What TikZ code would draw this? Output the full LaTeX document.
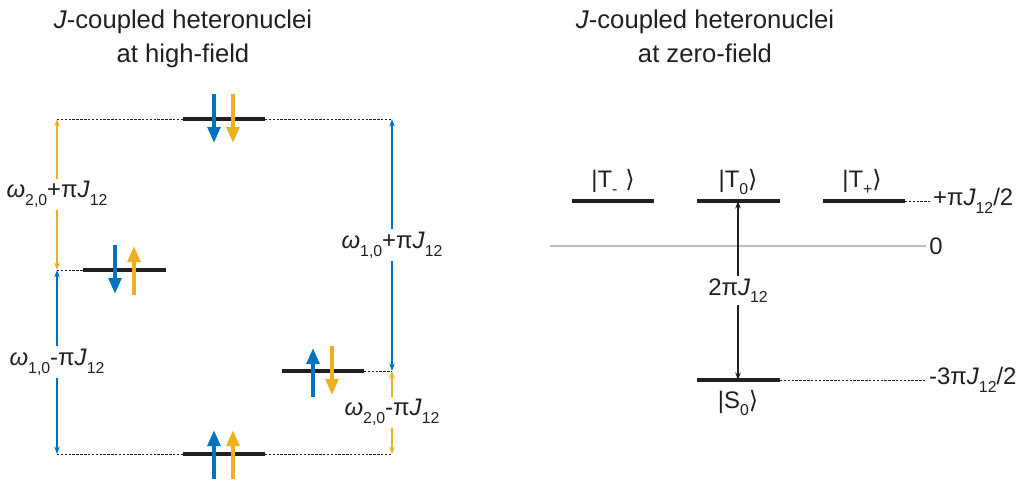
\documentclass[tikz,border=0pt]{standalone}
\usepackage{fontspec}
\setmainfont{Liberation Sans}
\newfontfamily\brafont{DejaVu Sans}
\usetikzlibrary{arrows.meta, positioning}
\definecolor{spinBlue}{HTML}{0072BD}
\definecolor{spinYellow}{HTML}{EDB120}
\definecolor{zeroGray}{HTML}{BDBDBD}
\definecolor{inkDark}{HTML}{231F20}
\newcommand{\lowidx}[1]{\raisebox{-0.6ex}{\fontsize{9}{10}\selectfont #1}}
\newcommand{\kt}[2]{|T\lowidx{#1}#2{\brafont\char"27E9}}

\begin{document}
\begin{tikzpicture}[x=0.02cm, y=-0.02cm, color=inkDark,
    lvl/.style={line width=2.3pt},
    guide/.style={line width=0.55pt, dash pattern=on 1.4pt off 0.8pt},
    spinarr/.style={line width=2.4pt, -{Triangle[length=0.32cm, width=0.25cm]}},
    dim/.style={line width=0.6pt, {Stealth[length=1.5mm, width=1.1mm]}-{Stealth[length=1.5mm, width=1.1mm]}},
    lbl/.style={fill=white, inner sep=1.5pt, font=\fontsize{13.6}{16}\selectfont, text=inkDark},
    ttl/.style={font=\fontsize{14.6}{17}\selectfont, anchor=base}]
    \useasboundingbox (0,0) rectangle (1021,487);
    % titles
    \node[ttl] (hfA) at (183,28) {\textit{J}-coupled heteronuclei};
    \node[ttl] (hfB) at (183,62) {at high-field};
    \node[ttl] (zfA) at (705,28) {\textit{J}-coupled heteronuclei};
    \node[ttl] (zfB) at (705,62) {at zero-field};

    % high-field levels
    \coordinate (dd-l) at (183,119); \coordinate (dd-r) at (265,119);
    \coordinate (du-l) at (83,270);  \coordinate (du-r) at (166,270);
    \coordinate (ud-l) at (282,371); \coordinate (ud-r) at (364,371);
    \coordinate (uu-l) at (183,454); \coordinate (uu-r) at (265,454);
    \coordinate (L1) at (57,119); \coordinate (L2) at (57,270); \coordinate (L3) at (57,454);
    \coordinate (R1) at (392,119); \coordinate (R2) at (392,371); \coordinate (R3) at (392,454);
    \draw[guide] (L1) -- (dd-l) (dd-r) -- (R1);
    \draw[guide] (L2) -- (du-l);
    \draw[guide] (ud-r) -- (R2);
    \draw[guide] (L3) -- (uu-l) (uu-r) -- (R3);
    \foreach \a in {dd, du, ud, uu} \draw[lvl] (\a-l) -- (\a-r);

    % spins
    \draw[spinarr, spinBlue]   (214,94) -- (214,143);
    \draw[spinarr, spinYellow] (233,94) -- (233,143);
    \draw[spinarr, spinBlue]   (115,245) -- (115,294);
    \draw[spinarr, spinYellow] (134,295) -- (134,246);
    \draw[spinarr, spinBlue]   (313,397) -- (313,348);
    \draw[spinarr, spinYellow] (332,346) -- (332,395);
    \draw[spinarr, spinBlue]   (214,479) -- (214,430);
    \draw[spinarr, spinYellow] (233,479) -- (233,430);

    % transitions
    \draw[dim, spinYellow] (L1) -- node[lbl] (w2p) {\textit{ω}\lowidx{2,0}+π\textit{J}\lowidx{12}} (L2);
    \draw[dim, spinBlue]   (L2) -- node[lbl] (w1m) {\textit{ω}\lowidx{1,0}-π\textit{J}\lowidx{12}} (L3);
    \draw[dim, spinBlue]   (R1) -- node[lbl] (w1p) {\textit{ω}\lowidx{1,0}+π\textit{J}\lowidx{12}} (R2);
    \draw[dim, spinYellow] (R2) -- node[lbl] (w2m) {\textit{ω}\lowidx{2,0}-π\textit{J}\lowidx{12}} (R3);

    % zero-field levels
    \coordinate (tm-l) at (572,201); \coordinate (tm-r) at (654,201);
    \coordinate (t0-l) at (697,201); \coordinate (t0-r) at (780,201);
    \coordinate (tp-l) at (823,201); \coordinate (tp-r) at (905,201);
    \coordinate (s0-l) at (697,380); \coordinate (s0-r) at (780,380);
    \coordinate (t0) at (738,201); \coordinate (s0) at (738,380);
    \coordinate (z-l) at (550,246); \coordinate (z-r) at (926,246);
    \draw[zeroGray, line width=0.7pt] (z-l) -- (z-r) node[lbl, anchor=west, text=inkDark, fill=none] (zero) {0};
    \draw[guide] (tp-r) -- (930,201) node[lbl, anchor=west, fill=none] (eT) {+π\textit{J}\lowidx{12}/2};
    \draw[guide] (s0-r) -- (926,380) node[lbl, anchor=west, fill=none] (eS) {-3π\textit{J}\lowidx{12}/2};
    \foreach \a in {tm, t0, tp, s0} \draw[lvl] (\a-l) -- (\a-r);
    \node[lbl, fill=none] (ktm) at (613,182) {\kt{-}{\,\,}};
    \node[lbl, fill=none] (kt0) at (738,182) {\kt{0}{}};
    \node[lbl, fill=none] (ktp) at (862,182) {\kt{+}{}};
    \node[lbl, fill=none] (ks0) at (738,403) {|S\lowidx{0}{\brafont\char"27E9}};
    \draw[dim, color=inkDark] (s0) -- node[lbl] (gap) {2π\textit{J}\lowidx{12}} (t0);
\end{tikzpicture}
\end{document}
